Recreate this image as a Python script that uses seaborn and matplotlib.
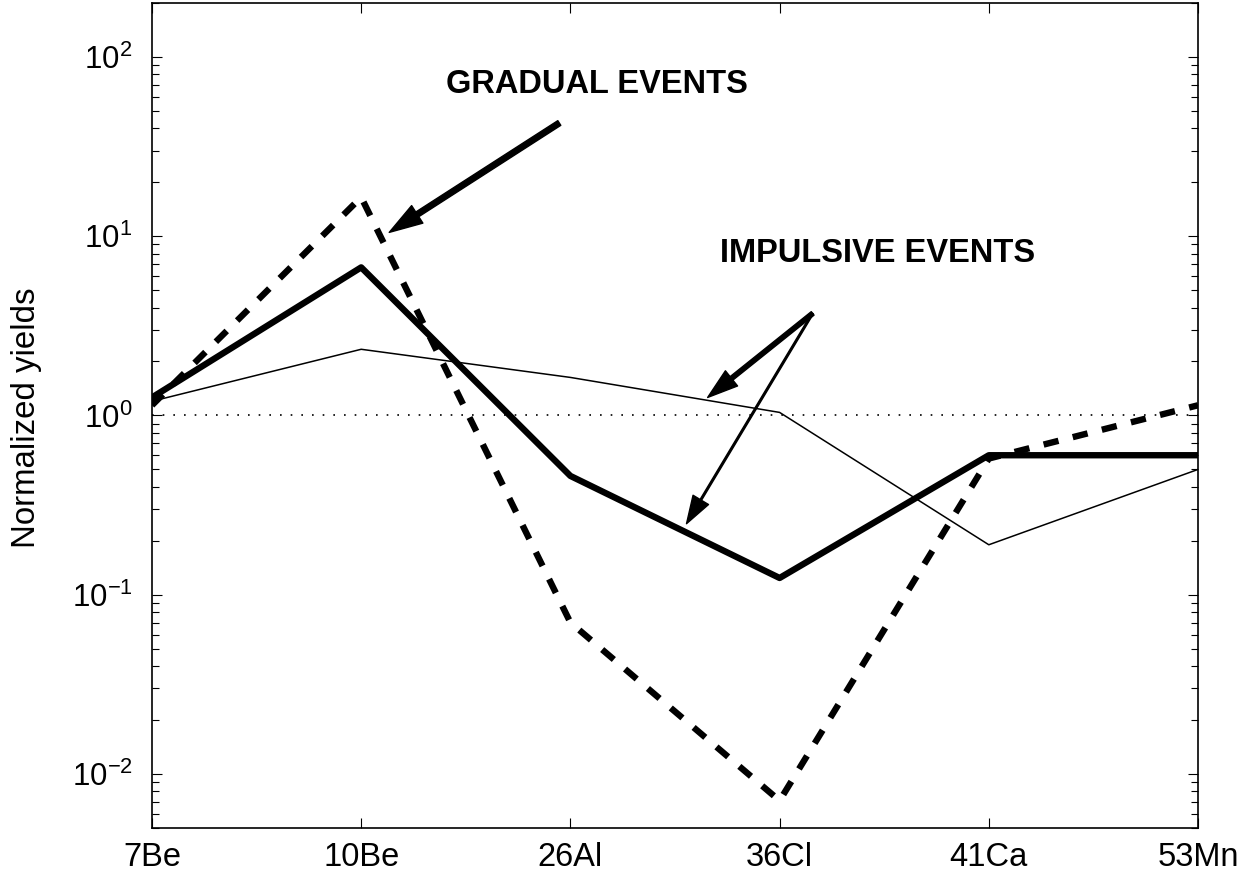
import numpy as np
import pandas as pd
import matplotlib
matplotlib.use("Agg")
import matplotlib.pyplot as plt
import seaborn as sns
from matplotlib.ticker import LogLocator, NullFormatter

sns.set_theme(style="ticks")
plt.rcParams['font.family'] = ['Liberation Sans', 'DejaVu Sans']
plt.rcParams['mathtext.fontset'] = 'custom'
plt.rcParams['mathtext.rm'] = 'Liberation Sans'
plt.rcParams['mathtext.it'] = 'Liberation Sans'
for k in ['text.color', 'axes.labelcolor', 'xtick.color', 'ytick.color', 'axes.edgecolor']:
    plt.rcParams[k] = 'black'

# Data
isotopes = ["7Be", "10Be", "26Al", "36Cl", "41Ca", "53Mn"]
gradual = [1.14, 16.5, 0.070, 0.0071, 0.575, 1.14]         # dashed thick
impulsive_thick = [1.26, 6.7, 0.46, 0.124, 0.60, 0.60]     # solid thick
impulsive_thin = [1.20, 2.34, 1.63, 1.04, 0.19, 0.50]      # solid thin
reference = [1, 1, 1, 1, 1, 1]                              # dotted

pos = np.arange(len(isotopes))
df = pd.DataFrame({"pos": pos, "gradual": gradual, "thick": impulsive_thick,
                   "thin": impulsive_thin, "ref": reference})

fig = plt.figure(figsize=(12.55, 8.72), dpi=100)
ax = fig.add_axes([0.1211, 0.0505, 0.8335, 0.9461])

sns.lineplot(data=df, x="pos", y="ref", ax=ax, color="black", lw=1.2,
             linestyle=(0, (1, 5.4)))
sns.lineplot(data=df, x="pos", y="gradual", ax=ax, color="black", lw=4.6,
             linestyle=(0, (2.4, 2.3)))
sns.lineplot(data=df, x="pos", y="thick", ax=ax, color="black", lw=4.6)
sns.lineplot(data=df, x="pos", y="thin", ax=ax, color="black", lw=1.1)

ax.set_yscale("log")
ax.set_ylim(0.005, 200)
ax.set_xlim(0, len(isotopes) - 1)
ax.set_xticks(pos)
ax.set_xticklabels(isotopes)
ax.yaxis.set_major_locator(LogLocator(base=10, numticks=10))
ax.yaxis.set_minor_locator(LogLocator(base=10, subs=np.arange(2, 10), numticks=10))
ax.yaxis.set_minor_formatter(NullFormatter())
ax.set_xlabel("")
ax.set_ylabel("Normalized yields", fontsize=23.8)
ax.yaxis.set_label_coords(-0.105, 0.497)

ax.tick_params(axis="both", which="major", direction="in", length=7, width=0.8,
               top=True, right=True)
ax.tick_params(axis="x", which="major", labelsize=23.5, pad=10)
ax.tick_params(axis="y", which="major", labelsize=22.5, pad=14)
ax.tick_params(axis="both", which="minor", direction="in", length=5, width=0.8,
               top=True, right=True)
for s in ax.spines.values():
    s.set_linewidth(1.2)
    s.set_color("black")

# Annotations (text positions and arrows)
ax.text(2.129, 69.8, "GRADUAL EVENTS", fontsize=23.5, fontweight="bold",
        ha="center", va="center")
ax.text(3.469, 8.04, "IMPULSIVE EVENTS", fontsize=23.5, fontweight="bold",
        ha="center", va="center")

ax.annotate("", xy=(1.134, 10.5), xytext=(1.947, 42.8),
            arrowprops=dict(facecolor="black", edgecolor="black", width=4.0,
                            headwidth=15, headlength=24, shrink=0))
ax.annotate("", xy=(2.656, 1.26), xytext=(3.158, 3.71),
            arrowprops=dict(facecolor="black", edgecolor="black", width=3.2,
                            headwidth=14, headlength=22, shrink=0))
ax.annotate("", xy=(2.555, 0.249), xytext=(3.158, 3.71),
            arrowprops=dict(facecolor="black", edgecolor="black", width=1.2,
                            headwidth=13, headlength=20, shrink=0))

fig.savefig("out.png", dpi=100, facecolor="white")
